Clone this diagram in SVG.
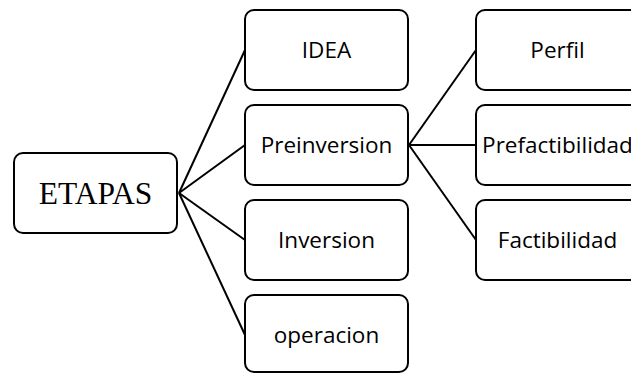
<svg xmlns="http://www.w3.org/2000/svg" width="631" height="375" viewBox="0 0 631 375">
<style>
.box{fill:#fff;stroke:#000;stroke-width:2}
.t{font-family:"Open Sans","Liberation Sans",sans-serif;font-size:22.5px;fill:#000;text-anchor:middle}
.root{font-family:"Liberation Serif","Times New Roman",serif;font-size:31.5px;fill:#000;text-anchor:middle}
.c{stroke:#000;stroke-width:2;fill:none}
</style>
<rect width="631" height="375" fill="#fff"/>
<g id="connectors" class="c">
<line x1="179" y1="193" x2="245" y2="50"/>
<line x1="179" y1="193" x2="245" y2="145"/>
<line x1="179" y1="193" x2="245" y2="240"/>
<line x1="179" y1="193" x2="245" y2="335"/>
<line x1="409" y1="145" x2="476" y2="50"/>
<line x1="409" y1="145" x2="476" y2="145"/>
<line x1="409" y1="145" x2="476" y2="240"/>
</g>
<g id="etapas"><rect class="box" x="14" y="153" width="163" height="80" rx="9"/><text class="root" x="95.5" y="204">ETAPAS</text></g>
<g id="idea"><rect class="box" x="245" y="10" width="163" height="80" rx="9"/><text class="t" x="326.5" y="58">IDEA</text></g>
<g id="preinversion"><rect class="box" x="245" y="105" width="163" height="80" rx="9"/><text class="t" x="326.5" y="153">Preinversion</text></g>
<g id="inversion"><rect class="box" x="245" y="200" width="163" height="80" rx="9"/><text class="t" x="326.5" y="248">Inversion</text></g>
<g id="operacion"><rect class="box" x="245" y="295" width="163" height="77" rx="9"/><text class="t" x="326.5" y="343">operacion</text></g>
<g id="perfil"><rect class="box" x="476" y="10" width="163" height="80" rx="9"/><text class="t" x="557.5" y="58">Perfil</text></g>
<g id="prefactibilidad"><rect class="box" x="476" y="105" width="163" height="80" rx="9"/><text class="t" x="557.5" y="153">Prefactibilidad</text></g>
<g id="factibilidad"><rect class="box" x="476" y="200" width="163" height="80" rx="9"/><text class="t" x="557.5" y="248">Factibilidad</text></g>
</svg>
